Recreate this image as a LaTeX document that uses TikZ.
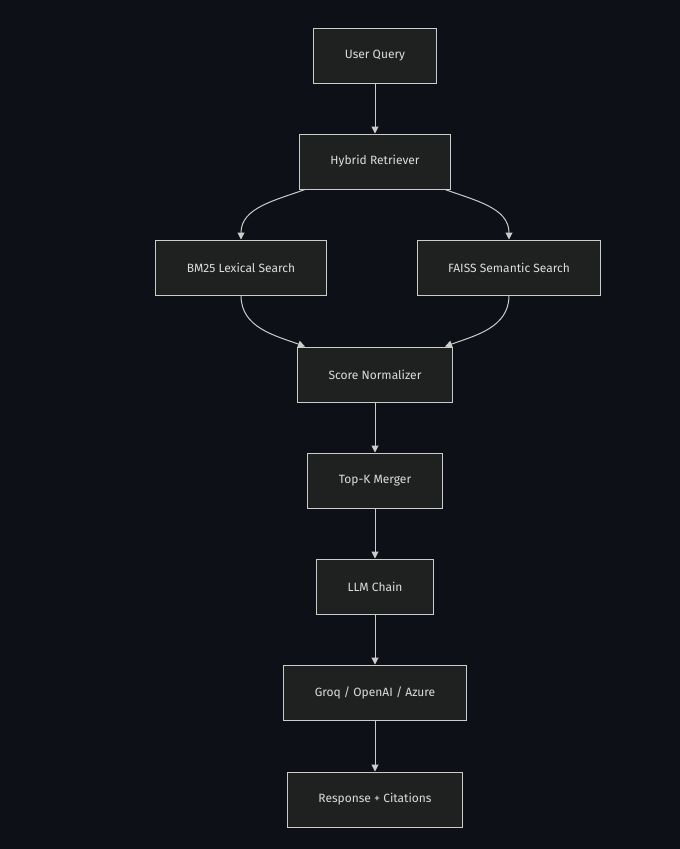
\documentclass[tikz,border=0pt]{standalone}
\usepackage{fontspec}
\setmainfont{Fira Sans}
\usetikzlibrary{arrows.meta,positioning}
\definecolor{bgc}{HTML}{0D1117}
\definecolor{boxc}{HTML}{1F2020}
\definecolor{linec}{HTML}{CCCCCC}
\definecolor{textc}{HTML}{DDDDDD}
\tikzset{
  blk/.style={draw=linec,fill=boxc,line width=1pt,text=textc,font=\fontsize{12}{14}\selectfont,
    minimum height=55pt,inner xsep=31pt},
  arr/.style={draw=linec,line width=1pt,-{Triangle[length=7pt,width=7pt]}}
}
\begin{document}
\begin{tikzpicture}[x=1pt,y=-1pt]
  \fill[bgc] (0,0) rectangle (680,849);
  \useasboundingbox (0,0) rectangle (680,849);

  \node[blk] (query) at (375,55.5) {User Query};
  \node[blk] (hyb) at (375,161.5) {Hybrid Retriever};
  \node[blk] (bm) at (241,267.5) {BM25 Lexical Search};
  \node[blk] (faiss) at (509,267.5) {FAISS Semantic Search};
  \node[blk] (norm) at (375,374.5) {Score Normalizer};
  \node[blk] (topk) at (375,480.5) {Top-K Merger};
  \node[blk] (llm) at (375,586.5) {LLM Chain};
  \node[blk] (prov) at (375,692.5) {Groq / OpenAI / Azure};
  \node[blk] (resp) at (375,799.5) {Response + Citations};

  \draw[arr] (query) -- (hyb);
  \draw[arr] ([xshift=-70pt]hyb.south) to[out=-160,in=90] (bm.north);
  \draw[arr] ([xshift=70pt]hyb.south) to[out=-20,in=90] (faiss.north);
  \draw[arr] (bm.south) to[out=-90,in=160] ([xshift=-70pt]norm.north);
  \draw[arr] (faiss.south) to[out=-90,in=20] ([xshift=70pt]norm.north);
  \draw[arr] (norm) -- (topk);
  \draw[arr] (topk) -- (llm);
  \draw[arr] (llm) -- (prov);
  \draw[arr] (prov) -- (resp);
\end{tikzpicture}
\end{document}
